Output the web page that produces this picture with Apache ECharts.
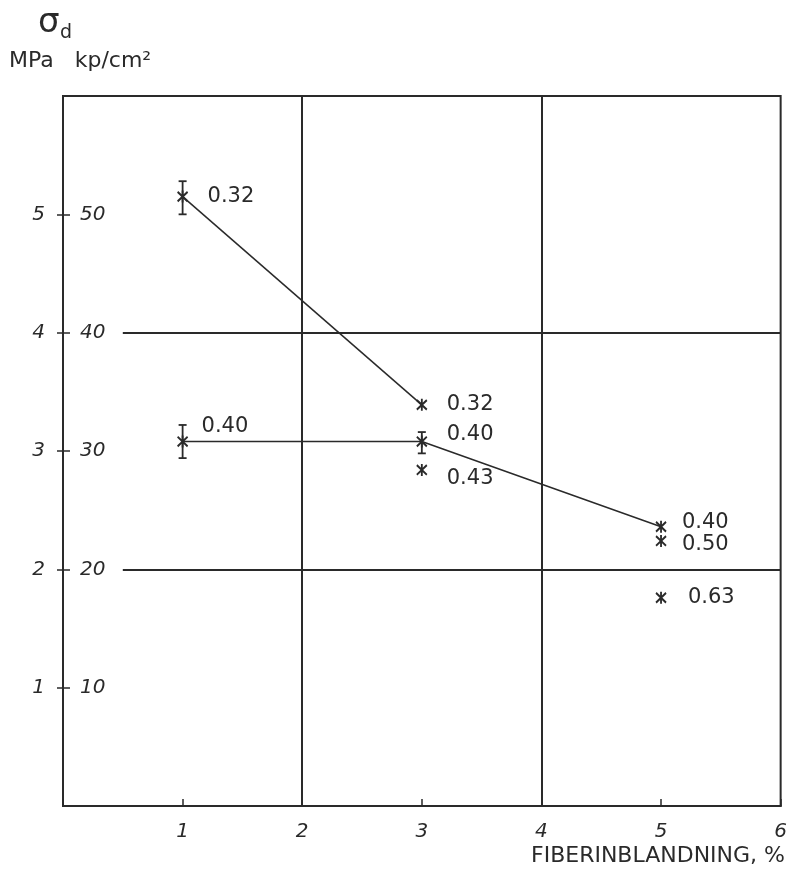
<!DOCTYPE html>
<html>
<head>
<meta charset="utf-8">
<script src="https://cdn.jsdelivr.net/npm/echarts@6/dist/echarts.min.js"></script>
<style>
  html, body { margin: 0; padding: 0; background: #fff; }
  #chart { width: 790px; height: 877px; }
</style>
</head>
<body>
<div id="chart"></div>
<script>
// fibre content (%) vs compressive strength (kp/cm2), labels = w/c ratio
const xTicks = [1, 2, 3, 4, 5, 6];
const yTicks = [10, 20, 30, 40, 50];
const gridX = [2, 4];
const gridY = [20, 40];

const line032 = [[1, 51.5], [3, 33.9]];
const line040 = [[1, 30.8], [3, 30.8], [5, 23.6]];

const points = [
  [1, 51.5, "0.32"],
  [3, 33.9, "0.32"],
  [1, 30.8, "0.40"],
  [3, 30.8, "0.40"],
  [5, 23.6, "0.40"],
  [3, 28.4, "0.43"],
  [5, 22.4, "0.50"],
  [5, 17.6, "0.63"],
];

// [x, low, high]
const errorBars = [
  [1, 50.0, 52.8],
  [1, 29.4, 32.2],
  [3, 29.8, 31.6],
];

const labelOffsets = [
  [14, 0], [14, 0], [8, -15], [14, -7], [10, -4], [14, 9], [10, 4], [16, 0],
];

const ink = "#2a2a2a";
const font = "DejaVu Sans";
const asterisk = "path://M-4,-4L4,4M4,-4L-4,4M0,-5L0,5";

const chart = echarts.init(document.getElementById("chart"));

const gridLines = [
  ...gridY.map((v) => [{ coord: [0.5, v] }, { coord: [6, v] }]),
  ...gridX.map((v) => [{ coord: [v, 0] }, { coord: [v, 60] }]),
];

chart.setOption({
  animation: false,
  grid: {
    show: true,
    left: 63,
    right: 7,
    top: 96,
    bottom: 71,
    borderColor: ink,
    borderWidth: 2,
  },
  graphic: [
    { type: "text", left: 38, top: 6, style: { text: "σ", font: "34px " + font, fill: ink } },
    { type: "text", left: 60, top: 24, style: { text: "d", font: "19px " + font, fill: ink } },
    { type: "text", left: 9, top: 50, style: { text: "MPa   kp/cm²", font: "22px " + font, fill: ink } },
    {
      type: "text", right: 5, top: 845,
      style: { text: "FIBERINBLANDNING, %", font: "22px " + font, fill: ink },
    },
  ],
  xAxis: {
    type: "value",
    min: 0,
    max: 6,
    interval: 1,
    axisLine: { show: true, lineStyle: { color: ink, width: 2 } },
    axisTick: { show: true, inside: true, length: 7, lineStyle: { color: ink, width: 1.5 } },
    axisLabel: {
      color: ink,
      fontFamily: font,
      fontSize: 20,
      fontStyle: "italic",
      margin: 16,
      formatter: (v) => (xTicks.includes(v) ? String(v) : ""),
    },
    splitLine: { show: false },
  },
  yAxis: [
    {
      type: "value",
      min: 0,
      max: 60,
      interval: 10,
      position: "left",
      axisLine: { show: true, lineStyle: { color: ink, width: 2 } },
      axisTick: { show: true, length: 6, customValues: yTicks, lineStyle: { color: ink, width: 1.5 } },
      axisLabel: {
        color: ink,
        fontFamily: font,
        fontSize: 20,
        fontStyle: "italic",
        margin: 18,
        customValues: yTicks,
        formatter: (v) => String(v / 10),
      },
      splitLine: { show: false },
    },
    {
      type: "value",
      min: 0,
      max: 60,
      interval: 10,
      position: "left",
      axisLine: { show: true, lineStyle: { color: ink, width: 2 } },
      axisTick: { show: true, inside: true, length: 7, customValues: yTicks, lineStyle: { color: ink, width: 1.5 } },
      axisLabel: {
        inside: true,
        color: ink,
        fontFamily: font,
        fontSize: 20,
        fontStyle: "italic",
        margin: 17,
        customValues: yTicks,
        formatter: (v) => String(v),
      },
      splitLine: { show: false },
    },
  ],
  series: [
    {
      type: "line",
      data: line032,
      symbol: "none",
      lineStyle: { color: ink, width: 1.5 },
      markLine: {
        silent: true,
        symbol: ["none", "none"],
        label: { show: false },
        lineStyle: { color: ink, width: 2, type: "solid" },
        data: gridLines,
      },
    },
    {
      type: "line",
      data: line040,
      symbol: "none",
      lineStyle: { color: ink, width: 1.5 },
    },
    {
      type: "custom",
      data: errorBars,
      renderItem(params, api) {
        const x = api.value(0);
        const lo = api.coord([x, api.value(1)]);
        const hi = api.coord([x, api.value(2)]);
        const style = { stroke: ink, lineWidth: 1.8 };
        const cap = 4;
        return {
          type: "group",
          children: [
            { type: "line", shape: { x1: lo[0], y1: lo[1], x2: hi[0], y2: hi[1] }, style },
            { type: "line", shape: { x1: lo[0] - cap, y1: lo[1], x2: lo[0] + cap, y2: lo[1] }, style },
            { type: "line", shape: { x1: hi[0] - cap, y1: hi[1], x2: hi[0] + cap, y2: hi[1] }, style },
          ],
        };
      },
    },
    {
      type: "scatter",
      symbol: asterisk,
      symbolSize: [10, 12],
      itemStyle: { color: "rgba(0,0,0,0)", borderColor: ink, borderWidth: 2, opacity: 1 },
      label: {
        show: true,
        position: "right",
        color: ink,
        fontFamily: font,
        fontSize: 21,
        formatter: (p) => p.data.value[2],
      },
      data: points.map((p, i) => ({
        value: p,
        label: { offset: labelOffsets[i] },
      })),
    },
  ],
});
</script>
</body>
</html>
